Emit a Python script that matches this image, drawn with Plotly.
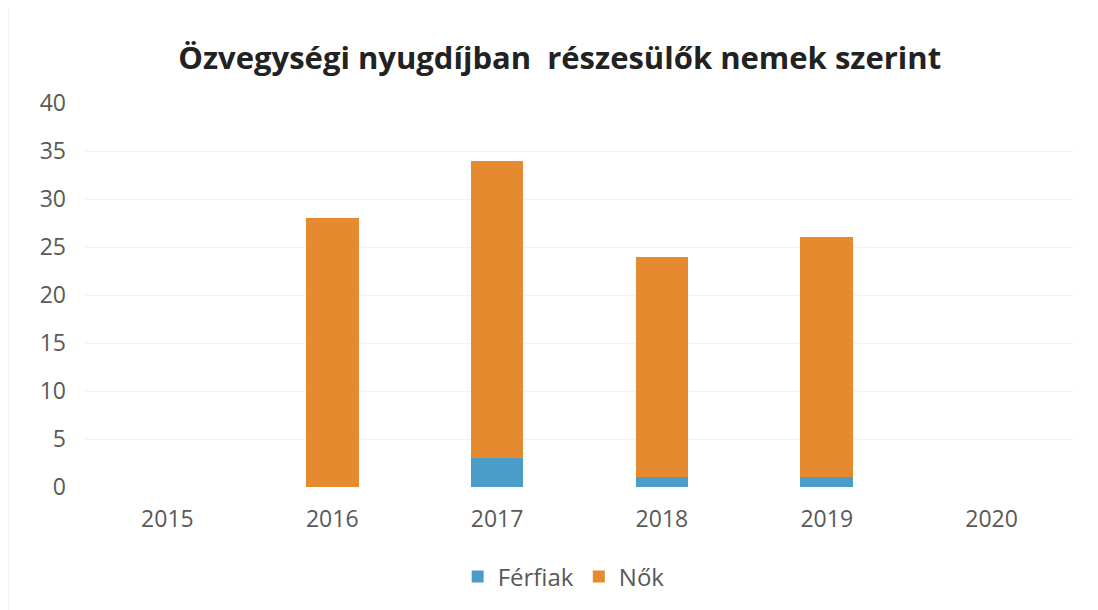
import plotly.graph_objects as go

years = ["2015", "2016", "2017", "2018", "2019", "2020"]
ferfiak = [0, 0, 3, 1, 1, 0]
nok = [0, 28, 31, 23, 25, 0]
y_ticks = [0, 5, 10, 15, 20, 25, 30, 35, 40]

title_text = "Özvegységi nyugdíjban  részesülők nemek szerint"

fig = go.Figure()
fig.add_trace(go.Bar(x=years, y=ferfiak, name="Férfiak", marker=dict(color="#4B9DC9", line=dict(width=0))))
fig.add_trace(go.Bar(x=years, y=nok, name="Nők", marker=dict(color="#E58A2E", line=dict(width=0))))

fig.update_layout(
    barmode="stack",
    bargap=0.68,
    width=1098,
    height=610,
    paper_bgcolor="white",
    plot_bgcolor="white",
    margin=dict(l=77, r=32, t=95, b=131, autoexpand=False),
    title=dict(
        text="<b>" + title_text + "</b>",
        xref="paper", x=0.48, xanchor="center",
        yref="container", y=1 - 50 / 610, yanchor="middle",
        font=dict(family="Open Sans", size=31, color="#222222"),
    ),
    font=dict(family="Open Sans", color="#595959"),
    xaxis=dict(
        type="category",
        showgrid=False, showline=False, zeroline=False,
        tickfont=dict(size=23, color="#595959"),
        ticklabelstandoff=16,
        automargin=False,
    ),
    yaxis=dict(
        range=[0, 40],
        tickvals=y_ticks,
        showgrid=True, gridcolor="#f3f3f3", gridwidth=1,
        zeroline=False, showline=False,
        tickfont=dict(size=23, color="#595959"),
        ticklabelstandoff=18,
        automargin=False,
    ),
    legend=dict(
        orientation="h", x=0.484, xanchor="center", y=-0.234, yanchor="middle",
        font=dict(size=24, color="#595959"),
        traceorder="normal",
    ),
    shapes=[dict(type="rect", xref="paper", yref="paper", x0=-0.078, x1=1.02, y0=-0.35, y1=1.26,
                 line=dict(color="#d8d8d8", width=1))],
)

fig.write_html("out.html")
